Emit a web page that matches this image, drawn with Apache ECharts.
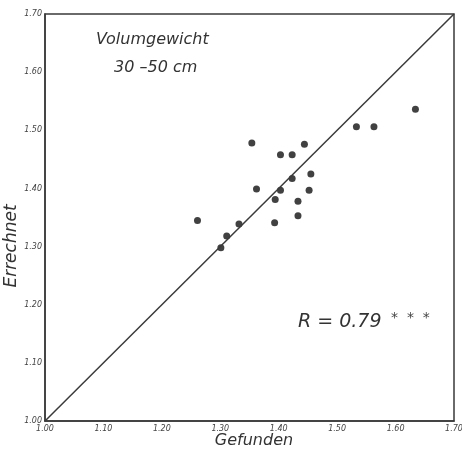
<!DOCTYPE html>
<html>
<head>
<meta charset="utf-8">
<script src="https://cdn.jsdelivr.net/npm/echarts@6/dist/echarts.min.js"></script>
<style>
  html, body {margin: 0; padding: 0; background: #fff;}
  #chart {width: 462px; height: 453px;}
</style>
</head>
<body>
<div id="chart"></div>
<script>
// Gefunden (measured) vs. Errechnet (calculated) bulk density, 30-50 cm
const gefunden = [1.261, 1.301, 1.311, 1.332, 1.354, 1.362, 1.393, 1.394, 1.403, 1.403,
  1.423, 1.423, 1.433, 1.433, 1.444, 1.455, 1.452, 1.533, 1.563, 1.634];
const errechnet = [1.345, 1.298, 1.318, 1.339, 1.478, 1.399, 1.341, 1.381, 1.458, 1.397,
  1.458, 1.417, 1.378, 1.353, 1.476, 1.425, 1.397, 1.506, 1.506, 1.536];
const diagonal = [[1.00, 1.00], [1.70, 1.70]];
const axisMin = 1.00;
const axisMax = 1.70;
const tickStep = 0.10;
const xName = "Gefunden";
const yName = "Errechnet";

const points = gefunden.map((x, i) => [x, errechnet[i]]);

const lineColor = "#3a3a3a";
const fontFamily = "DejaVu Sans";

const chart = echarts.init(document.getElementById("chart"));

const axisCommon = {
  type: "value",
  min: axisMin,
  max: axisMax,
  interval: tickStep,
  axisLine: {show: true, lineStyle: {color: lineColor, width: 1.5}},
  axisTick: {show: false},
  splitLine: {show: false},
  axisLabel: {
    color: "#444",
    fontSize: 8,
    fontStyle: "italic",
    fontFamily: fontFamily,
    formatter: (v) => v.toFixed(2),
  },
};

chart.setOption({
  animation: false,
  grid: {
    left: 45, right: 8, top: 14, bottom: 32,
    containLabel: false,
    outerBoundsMode: "none",
    show: true,
    borderColor: lineColor,
    borderWidth: 1.5,
  },
  xAxis: Object.assign({}, axisCommon, {
    position: "bottom",
    axisLabel: Object.assign({}, axisCommon.axisLabel, {margin: 4}),
  }),
  yAxis: Object.assign({}, axisCommon, {
    position: "left",
    axisLabel: Object.assign({}, axisCommon.axisLabel, {margin: 3}),
  }),
  graphic: [
    {
      type: "text", x: 254, y: 441,
      style: {text: xName, fill: "#333", font: "italic 16px 'DejaVu Sans'", align: "center", verticalAlign: "middle"},
    },
    {
      type: "text", x: 12, y: 246, rotation: Math.PI / 2,
      style: {text: yName, fill: "#333", font: "italic 17px 'DejaVu Sans'", align: "center", verticalAlign: "middle"},
    },
    {
      type: "text", left: 96, top: 32,
      style: {text: "Volumgewicht", fill: "#333", font: "italic 16px 'DejaVu Sans'"},
    },
    {
      type: "text", left: 114, top: 60,
      style: {text: "30 –50 cm", fill: "#333", font: "italic 16px 'DejaVu Sans'"},
    },
    {
      type: "text", left: 298, top: 313,
      style: {text: "R = 0.79", fill: "#333", font: "italic 19px 'DejaVu Sans'"},
    },
    {
      type: "text", left: 391, top: 311,
      style: {text: "*  *  *", fill: "#444", font: "14px 'DejaVu Sans'"},
    },
  ],
  series: [
    {
      type: "line",
      data: diagonal,
      symbol: "none",
      lineStyle: {color: lineColor, width: 1.5},
      silent: true,
    },
    {
      type: "scatter",
      data: points,
      symbolSize: 7,
      itemStyle: {color: "#111"},
    },
  ],
});
</script>
</body>
</html>
